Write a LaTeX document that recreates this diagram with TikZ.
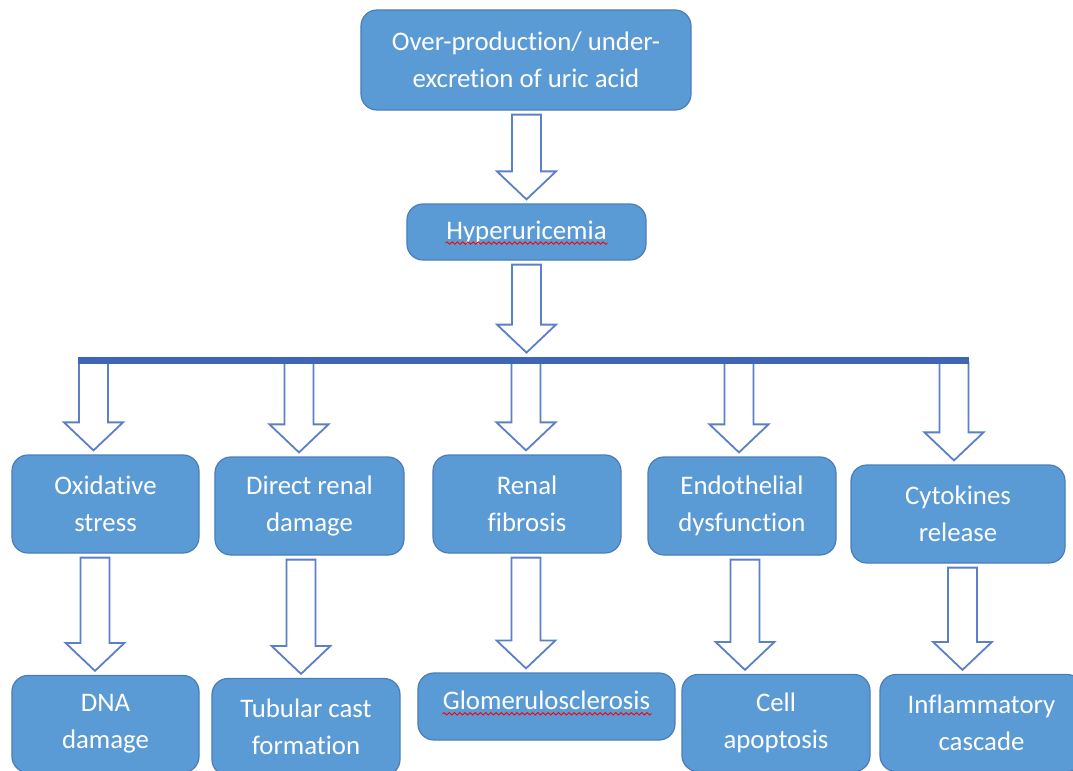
\documentclass[tikz,border=0pt]{standalone}
\usepackage{fontspec}
\setmainfont{Carlito}[Ligatures=NoCommon]
\usepackage{xcolor}
\usepackage{tikz}
\usetikzlibrary{calc}
\usetikzlibrary{backgrounds,decorations.pathmorphing}

\definecolor{boxblue}{HTML}{5B9BD5}
\definecolor{boxedge}{HTML}{4A7EBB}
\definecolor{arrowblue}{HTML}{5B7FC9}
\definecolor{barblue}{HTML}{3F66B5}

\begin{document}
\begin{tikzpicture}[x = 0.5bp , y = -0.5bp ,
            box/.style = {draw=boxedge, line width=0.6bp, fill=boxblue, rounded corners=8bp,
                          text=white, align=center, inner sep=0pt,
                          font=\fontsize{13.4bp}{18.5bp}\selectfont},
            barline/.style = {fill=barblue, inner sep=0pt, minimum width=445.5bp, minimum height=3.5bp},
            arrowgap/.store in = \arrowgap , arrowgap = 2bp ,
            blockarrow/.style = {draw=arrowblue, fill=white, line width=0.9bp,
              to path={let \p1=(\tikztostart), \p2=(\tikztotarget) in
                (\x2-7.25bp,\y1-\arrowgap) -- (\x2+7.25bp,\y1-\arrowgap) -- (\x2+7.25bp,\y2+16bp)
                -- (\x2+14.75bp,\y2+16bp) -- (\x2,\y2+2bp) -- (\x2-14.75bp,\y2+16bp)
                -- (\x2-7.25bp,\y2+16bp) -- cycle}},
            squiggle/.style = {red, line width=0.45bp, decorate,
                               decoration={snake, amplitude=0.6bp, segment length=2.6bp}}
            ]
            \useasboundingbox (0,0) rectangle (1073,771);
            \clip (0,0) rectangle (1073,771);

            % top of the chain
            \node[box, minimum width=165bp, minimum height=50bp] (cause) at (526,60)
                {Over-production/ under-\\excretion of uric acid};
            \node[box, minimum width=119.5bp, minimum height=28bp] (hyper) at (526.5,232) {Hyperuricemia};
            \node[barline] (bar) at (523.5,360.5) {};

            % first level
            \node[box, minimum width=93.5bp, minimum height=49bp] (oxid) at (105.5,504) {Oxidative\\stress};
            \node[box, minimum width=94.5bp, minimum height=49bp] (direct) at (309.5,506) {Direct renal\\damage};
            \node[box, minimum width=94bp, minimum height=49bp] (fibro) at (527,504) {Renal\\fibrosis};
            \node[box, minimum width=94bp, minimum height=49bp] (endo) at (742,506) {Endothelial\\dysfunction};
            \node[box, minimum width=107bp, minimum height=49bp] (cyto) at (958,514) {Cytokines\\release};

            % second level
            \node[box, minimum width=93.5bp, minimum height=48.5bp] (dna) at (105.5,724) {DNA\\damage};
            \node[box, minimum width=94bp, minimum height=48.5bp] (tubular) at (306,727) {Tubular cast\\formation};
            \node[box, minimum width=128.5bp, minimum height=33.5bp, text depth=6bp] (glom) at (546.5,706.5) {Glomerulosclerosis};
            \node[box, minimum width=94bp, minimum height=48.5bp] (apopt) at (776,723) {Cell\\apoptosis};
            \node[box, minimum width=101.5bp, minimum height=48.5bp] (inflam) at (981.5,723) {Inflammatory\\cascade};

            \draw[squiggle] ([shift={(-81,4)}]hyper.base) -- ([shift={(81,4)}]hyper.base);
            \draw[squiggle] ([shift={(-104,4)}]glom.base) -- ([shift={(105,4)}]glom.base);

            \draw[blockarrow] (cause.south) to (hyper.north);
            \draw[blockarrow] (hyper.south) to ([xshift=1.5bp]bar.north);
            \begin{scope}[on background layer]
            \draw[blockarrow, arrowgap=-1bp] (bar.south) to ([xshift=-6bp]oxid.north);
            \draw[blockarrow, arrowgap=-1bp] (bar.south) to ([xshift=-5.25bp]direct.north);
            \draw[blockarrow, arrowgap=-1bp] (bar.south) to ([xshift=-0.5bp]fibro.north);
            \draw[blockarrow, arrowgap=-1bp] (bar.south) to ([xshift=-1.5bp]endo.north);
            \draw[blockarrow, arrowgap=-1bp] (bar.south) to ([xshift=-2bp]cyto.north);
            \end{scope}
            \draw[blockarrow] (oxid.south) to ([xshift=-5.25bp]dna.north);
            \draw[blockarrow] (direct.south) to ([xshift=-2.5bp]tubular.north);
            \draw[blockarrow] (fibro.south) to ([xshift=-10.25bp]glom.north);
            \draw[blockarrow] (endo.south) to ([xshift=-15.5bp]apopt.north);
            \draw[blockarrow] (cyto.south) to ([xshift=-9.5bp]inflam.north);
\end{tikzpicture}
\end{document}
